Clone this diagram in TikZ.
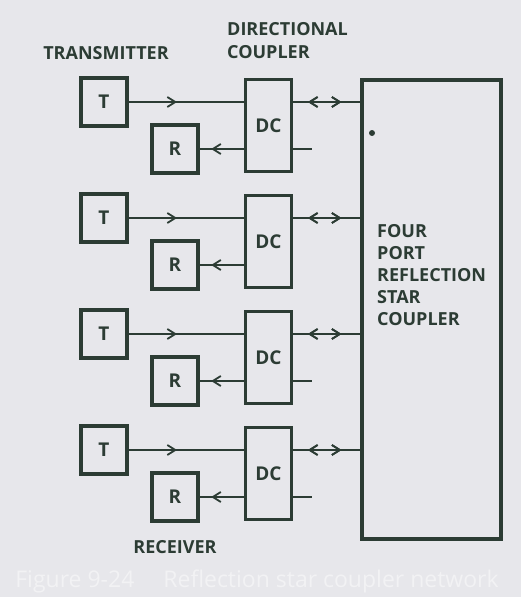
\documentclass[tikz,border=0pt]{standalone}
\usepackage{fontspec}
\setmainfont{Open Sans}
\usetikzlibrary{arrows.meta,decorations.markings}
\definecolor{ink}{RGB}{44,60,52}
\definecolor{paper}{RGB}{231,231,235}
\definecolor{captxt}{RGB}{242,242,244}
\begin{document}
\begin{tikzpicture}[x=1pt,y=-1pt,
  blk/.style={draw=ink,line width=3.2pt,minimum width=46pt,minimum height=48pt,inner sep=0pt,text=ink,font=\bfseries\fontsize{19}{19}\selectfont},
  dcbox/.style={draw=ink,line width=3.2pt,minimum width=46pt,minimum height=92pt,inner sep=0pt,text=ink,font=\bfseries\fontsize{19}{19}\selectfont},
  wire/.style={draw=ink,line width=2.2pt},
  lbl/.style={text=ink,font=\bfseries\fontsize{18}{19}\selectfont,inner sep=0pt},
  fwd/.style={postaction={decorate},decoration={markings,mark=at position #1 with {\arrow[ink,line width=1.8pt]{Straight Barb[length=8pt,width=10pt]}}}},
  bwd/.style={postaction={decorate},decoration={markings,mark=at position #1 with {\arrowreversed[ink,line width=1.8pt]{Straight Barb[length=8pt,width=10pt]}}}}
]
\useasboundingbox (0,0) rectangle (521,597);
\fill[paper] (0,0) rectangle (521,597);

% star coupler
\node[draw=ink,line width=3.2pt,minimum width=139pt,minimum height=459pt,inner sep=0pt] (star) at (431.5,309.5) {};
\node[lbl,anchor=north west,align=left,font=\bfseries\fontsize{18}{22}\selectfont] (startxt) at (377,224) {FOUR\\PORT\\REFLECTION\\STAR\\COUPLER};
\fill[ink] (372,133) circle (3pt);

% labels
\node[lbl] (ltx) at (106,53) {TRANSMITTER};
\node[lbl,anchor=west,align=left,font=\bfseries\fontsize{18}{23}\selectfont] (ldc) at (227,40.5) {DIRECTIONAL\\COUPLER};
\node[lbl] (lrx) at (175,547) {RECEIVER};

% groups
\foreach \i/\ty/\ry in {1/102/149,2/218/265,3/334/381,4/450/497}{
  \node[blk] (t\i) at (104,\ty) {T};
  \node[blk] (r\i) at (175,\ry) {R};
  \node[dcbox] (dc\i) at (268.5,{(\ty+\ry)/2}) {DC};
  \draw[wire,fwd=0.42] (t\i.east) -- (t\i.east -| dc\i.west);
  \draw[wire,fwd=0.74] (r\i.east -| dc\i.west) -- (r\i.east);
  \draw[wire,bwd=0.22,fwd=0.72] (t\i.east -| dc\i.east) -- (t\i.east -| star.west);
}
\foreach \i in {1,3,4}{
  \coordinate (s\i) at (312,0);
  \draw[wire] (r\i.east -| dc\i.east) -- (r\i.east -| s\i);
}

% caption
\node[text=captxt,font=\fontsize{23}{23}\selectfont,inner sep=0pt] (cap) at (257,581) {Figure 9-24\quad\ Reflection star coupler network};
\end{tikzpicture}
\end{document}
